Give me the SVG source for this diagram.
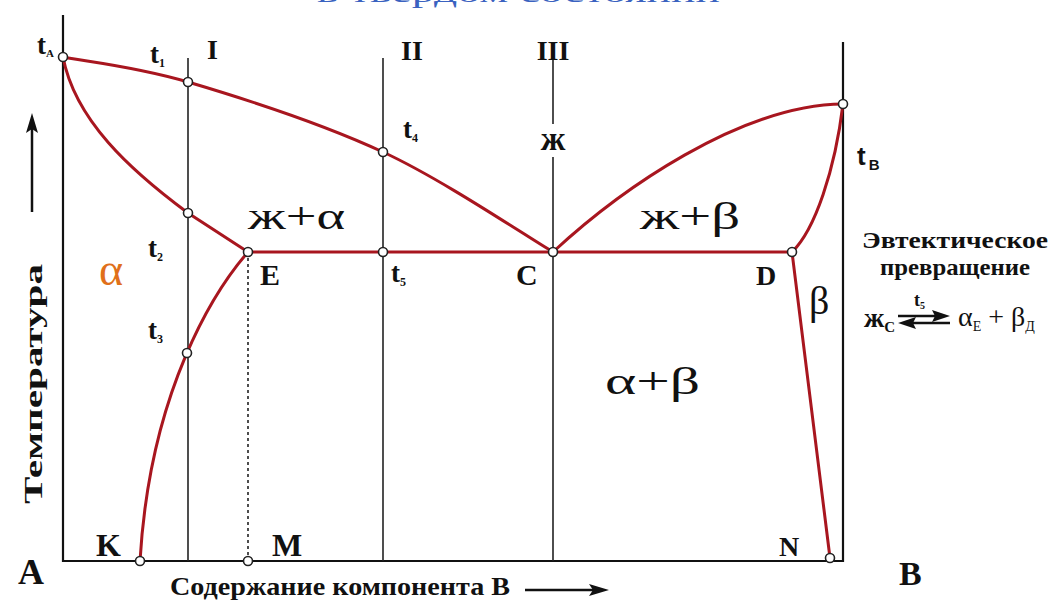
<svg xmlns="http://www.w3.org/2000/svg" width="1056" height="606" viewBox="0 0 1056 606">
<style>
.ax{stroke:#111;stroke-width:2.2;fill:none}
.vl{stroke:#222;stroke-width:1.6;fill:none}
.red{stroke:#a8161f;stroke-width:3;fill:none;stroke-linecap:round}
.pt{fill:#fff;stroke:#222;stroke-width:1.6}
.lb{font-family:"Liberation Serif",serif;font-weight:bold;fill:#111}
.ph{font-family:"Liberation Serif","DejaVu Serif",serif;fill:#111}
.ar{fill:#111}
</style>
<rect width="1056" height="606" fill="#fff"/>
<text x="317" y="2" font-family="Liberation Serif,serif" font-size="28" fill="#3a62c0" textLength="403" lengthAdjust="spacingAndGlyphs">в твердом состоянии</text>
<g id="axes">
<path class="ax" d="M63,15 V561 H843 V42"/>
</g>
<g id="connectors">
<path class="vl" d="M188,58 V561"/>
<path class="vl" d="M383,58 V561"/>
<path class="vl" d="M553,58 V124 M553,157 V561"/>
<path d="M248,252 V561" stroke="#222" stroke-width="1.6" stroke-dasharray="3,3" fill="none"/>
<path class="red" d="M63,57 C83.8,61.2 134.7,66.2 188,82 C241.3,97.8 322.2,123.7 383,152 C443.8,180.3 524.7,235.3 553,252"/>
<path class="red" d="M63,57 C75,120 130,170 188,213 L248,252"/>
<path class="red" d="M248,252 C215,290 150,390 140,561"/>
<path class="red" d="M248,252 H792"/>
<path class="red" d="M553,252 C620,190 740,105 843,104"/>
<path class="red" d="M792,252 C815,230 835,170 843,104"/>
<path class="red" d="M792,252 L830,558"/>
<path d="M32,212 V128" stroke="#111" stroke-width="2.5"/>
<path class="ar" d="M32,113 L38,133 L32,129 L26,133 z"/>
<path d="M525,590 H595" stroke="#111" stroke-width="2.5"/>
<path class="ar" d="M609,590 L589,584 L593,590 L589,596 z"/>
</g>
<g id="points">
<circle class="pt" cx="63" cy="57" r="4.5"/>
<circle class="pt" cx="188" cy="82" r="4.5"/>
<circle class="pt" cx="383" cy="152" r="4.5"/>
<circle class="pt" cx="843" cy="104" r="4.5"/>
<circle class="pt" cx="188" cy="213" r="4.5"/>
<circle class="pt" cx="248" cy="252" r="4.5"/>
<circle class="pt" cx="383" cy="252" r="4.5"/>
<circle class="pt" cx="553" cy="252" r="4.5"/>
<circle class="pt" cx="792" cy="252" r="4.5"/>
<circle class="pt" cx="187" cy="353" r="4.5"/>
<circle class="pt" cx="140" cy="561" r="4.5"/>
<circle class="pt" cx="248" cy="561" r="4.5"/>
<circle class="pt" cx="830" cy="558" r="4.5"/>
</g>
<g id="labels">
<text class="lb" x="37" y="54" font-size="27">t<tspan font-size="11" dy="3">A</tspan></text>
<text class="lb" x="150" y="63" font-size="27">t<tspan font-size="12" dy="4">1</tspan></text>
<text class="lb" x="207" y="59" font-size="28">I</text>
<text class="lb" x="401" y="60" font-size="28">II</text>
<text class="lb" x="553" y="60" font-size="28" text-anchor="middle">III</text>
<text class="lb" x="403" y="138" font-size="27">t<tspan font-size="12" dy="4">4</tspan></text>
<text class="lb" x="553" y="150" font-size="34" text-anchor="middle">ж</text>
<text x="857" y="165" font-family="Liberation Sans,sans-serif" font-weight="bold" font-size="26" fill="#111">t<tspan font-size="15" dy="5" dx="3">В</tspan></text>
<text class="ph" x="248" y="229" font-size="38" textLength="97" lengthAdjust="spacingAndGlyphs">ж+α</text>
<text class="ph" x="640" y="229" font-size="38" textLength="100" lengthAdjust="spacingAndGlyphs">ж+β</text>
<text class="lb" x="148" y="257" font-size="27">t<tspan font-size="12" dy="4">2</tspan></text>
<text x="99" y="285" font-family="Liberation Serif,serif" font-size="46" fill="#e0701a">α</text>
<text class="lb" x="260" y="285" font-size="30">E</text>
<text class="lb" x="391" y="282" font-size="27">t<tspan font-size="12" dy="4">5</tspan></text>
<text class="lb" x="516" y="285" font-size="30">C</text>
<text class="lb" x="756" y="285" font-size="28">D</text>
<text class="ph" x="809" y="314" font-size="40">β</text>
<text class="lb" x="148" y="339" font-size="27">t<tspan font-size="12" dy="4">3</tspan></text>
<text class="ph" x="605" y="394" font-size="38" textLength="95" lengthAdjust="spacingAndGlyphs">α+β</text>
<text class="lb" x="96" y="556" font-size="32">K</text>
<text class="lb" x="272" y="556" font-size="32">M</text>
<text class="lb" x="779" y="556" font-size="28">N</text>
<text class="lb" x="18" y="584" font-size="36">A</text>
<text class="lb" x="899" y="585" font-size="34">B</text>
<text class="lb" x="170" y="595" font-size="25" textLength="340" lengthAdjust="spacingAndGlyphs">Содержание компонента В</text>
<text class="lb" transform="translate(42,384) rotate(-90)" font-size="25" text-anchor="middle" textLength="240" lengthAdjust="spacingAndGlyphs">Температура</text>
</g>
<g id="reaction">
<text class="lb" x="862" y="248" font-size="23" textLength="186" lengthAdjust="spacingAndGlyphs">Эвтектическое</text>
<text class="lb" x="880" y="275" font-size="23" textLength="150" lengthAdjust="spacingAndGlyphs">превращение</text>
<text class="lb" x="864" y="327" font-size="28">ж<tspan font-size="15" dy="5">С</tspan></text>
<text class="lb" x="914" y="306" font-size="18">t<tspan font-size="10" dy="3">5</tspan></text>
<path d="M898,316 H936" stroke="#111" stroke-width="2.5"/>
<path class="ar" d="M950,316 L932,310 L935,316 L932,322 z"/>
<path d="M950,323 H912" stroke="#111" stroke-width="2.5"/>
<path class="ar" d="M898,323 L916,317 L913,323 L916,329 z"/>
<text class="ph" x="958" y="326" font-size="28">α<tspan font-size="14" dy="5">Е</tspan><tspan dy="-5"> + β</tspan><tspan font-size="14" dy="5">Д</tspan></text>
</g>
</svg>
